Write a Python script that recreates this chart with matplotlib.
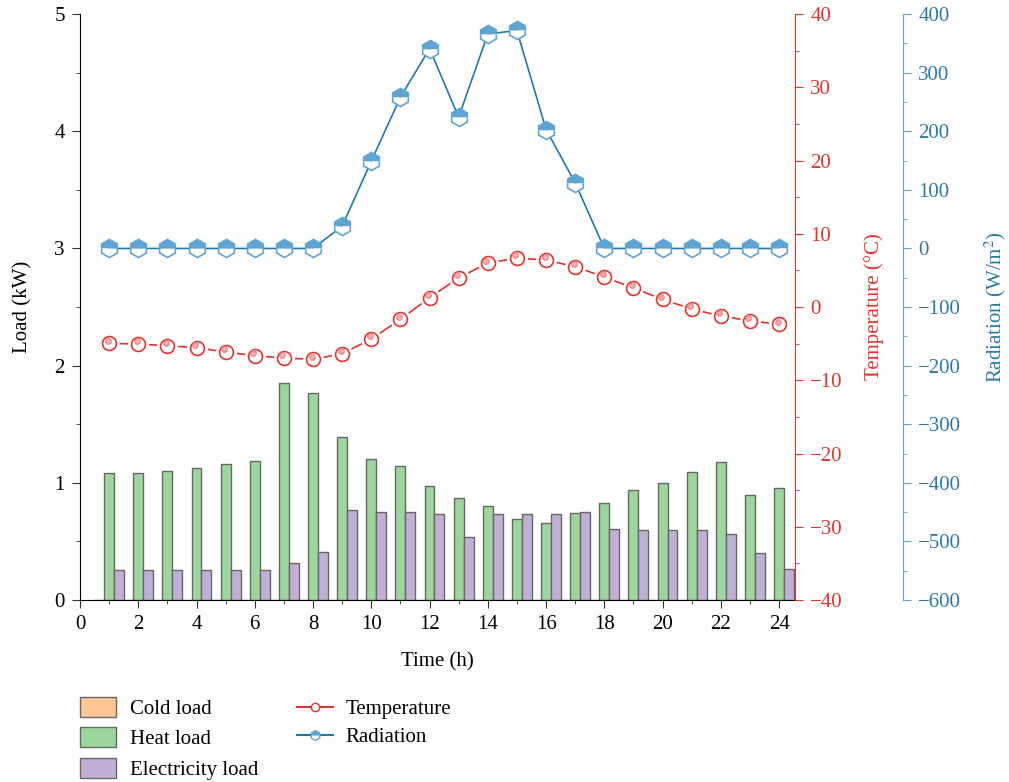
import numpy as np
import matplotlib
matplotlib.use('Agg')
import matplotlib.pyplot as plt
from matplotlib.patches import Patch
from matplotlib.lines import Line2D
from matplotlib.ticker import MultipleLocator

plt.rcParams['font.family'] = ['Liberation Serif', 'DejaVu Serif']
plt.rcParams['mathtext.fontset'] = 'stix'

# Datos
horas = np.arange(1, 25)
cold_load = [0] * 24
heat_load = [1.08, 1.08, 1.10, 1.13, 1.16, 1.19, 1.85, 1.77, 1.39, 1.20, 1.14, 0.97,
             0.87, 0.80, 0.69, 0.66, 0.74, 0.83, 0.94, 1.00, 1.09, 1.18, 0.90, 0.96]
elec_load = [0.26, 0.26, 0.26, 0.26, 0.26, 0.26, 0.32, 0.41, 0.77, 0.75, 0.755, 0.73,
             0.535, 0.73, 0.73, 0.73, 0.75, 0.61, 0.595, 0.595, 0.595, 0.565, 0.40, 0.265]
temperatura = [-4.96, -5.05, -5.28, -5.55, -6.14, -6.64, -6.96, -7.14, -6.37, -4.37, -1.68, 1.27,
               4.0, 6.0, 6.69, 6.42, 5.5, 4.1, 2.6, 1.05, -0.27, -1.23, -1.87, -2.36]
radiacion = [0, 0, 0, 0, 0, 0, 0, 0, 38, 149, 258, 341,
             224, 366, 372, 203, 112, 0, 0, 0, 0, 0, 0, 0]

c_cold = '#fdc795'
c_heat = '#9dd69c'
c_elec = '#c0b0d6'
c_edge = '#666666'
c_temp = '#e3342b'
c_rad_line = '#1f7aab'
c_rad_mk = '#5ea5d3'
c_rad_txt = '#2a7aa5'
fs = 15

fig = plt.figure(figsize=(10.09, 7.82), dpi=100)
ax = fig.add_axes([0.0793, 0.2327, 0.7087, 0.7493])

w = 0.34
ax.bar(horas - w, cold_load, w, color=c_cold, edgecolor=c_edge, linewidth=1)
ax.bar(horas, heat_load, w, color=c_heat, edgecolor=c_edge, linewidth=1)
ax.bar(horas + w, elec_load, w, color=c_elec, edgecolor=c_edge, linewidth=1)

ax.set_xlim(0, 24.55)
ax.set_ylim(0, 5)
ax.xaxis.set_major_locator(MultipleLocator(2))
ax.xaxis.set_minor_locator(MultipleLocator(1))
ax.yaxis.set_major_locator(MultipleLocator(1))
ax.yaxis.set_minor_locator(MultipleLocator(0.5))
ax.tick_params(which='major', direction='out', length=6, labelsize=fs, color='#333333', pad=5)
ax.tick_params(which='minor', direction='out', length=3, color='#333333')
ax.set_xlabel('Time (h)', fontsize=fs, labelpad=13)
ax.set_ylabel('Load (kW)', fontsize=fs, labelpad=16)
ax.spines['top'].set_visible(False)
ax.spines['right'].set_visible(False)

# Eje de temperatura
ax2 = ax.twinx()
ax2.set_ylim(-40, 40)
ax2.yaxis.set_major_locator(MultipleLocator(10))
ax2.yaxis.set_minor_locator(MultipleLocator(5))
for s in ['top', 'left', 'bottom']:
    ax2.spines[s].set_visible(False)
ax2.spines['right'].set_color(c_temp)
ax2.tick_params(axis='y', which='both', colors=c_temp, labelsize=fs)
ax2.tick_params(which='major', length=6, pad=5)
ax2.tick_params(which='minor', length=3)
ax2.set_ylabel('Temperature (°C)', color=c_temp, fontsize=fs, labelpad=15)
ax2.plot(horas, temperatura, color=c_temp, lw=1.2, zorder=2)
ax2.plot(horas, temperatura, ls='none', marker='o', ms=14, mfc='white', mec='white', zorder=3)
ax2.plot(horas, temperatura, ls='none', marker='o', ms=10, mfc='white', mec=c_temp, mew=1.2, zorder=4)
ax2.plot(horas - 0.05, np.array(temperatura) + 0.35, ls='none', marker='o', ms=4,
         mfc='#f7b0b0', mec='#f08080', mew=0.8, zorder=5)

# Eje de radiación
ax3 = ax.twinx()
ax3.spines['right'].set_position(('axes', 1.151))
ax3.set_ylim(-600, 400)
ax3.yaxis.set_major_locator(MultipleLocator(100))
ax3.yaxis.set_minor_locator(MultipleLocator(50))
for s in ['top', 'left', 'bottom']:
    ax3.spines[s].set_visible(False)
ax3.spines['right'].set_color(c_rad_mk)
ax3.tick_params(axis='y', which='both', colors=c_rad_mk, labelcolor=c_rad_txt, labelsize=fs)
ax3.tick_params(which='major', length=6, pad=5)
ax3.tick_params(which='minor', length=3)
ax3.set_ylabel('Radiation (W/m$^2$)', color=c_rad_txt, fontsize=fs, labelpad=15)
ax3.plot(horas, radiacion, color=c_rad_line, lw=1.2, marker='h', ms=13,
         fillstyle='top', mfc=c_rad_mk, mfcalt='white', mec=c_rad_mk, mew=1.2, zorder=3)

# Leyendas
h_bars = [Patch(facecolor=c_cold, edgecolor=c_edge, label='Cold load'),
          Patch(facecolor=c_heat, edgecolor=c_edge, label='Heat load'),
          Patch(facecolor=c_elec, edgecolor=c_edge, label='Electricity load')]
h_lines = [Line2D([], [], color=c_temp, marker='o', ms=6, mfc='white', mec=c_temp, label='Temperature'),
           Line2D([], [], color=c_rad_line, marker='h', ms=7, fillstyle='top', mfc=c_rad_mk,
                  mfcalt='white', mec=c_rad_mk, label='Radiation')]
leg1 = fig.legend(handles=h_bars, loc='upper left', bbox_to_anchor=(0.061, 0.133), frameon=False,
                  fontsize=fs, handlelength=1.7, handleheight=1.1, handletextpad=0.7,
                  labelspacing=0.4)
leg2 = fig.legend(handles=h_lines, loc='upper left', bbox_to_anchor=(0.276, 0.129), frameon=False,
                  fontsize=fs, handlelength=1.7, handletextpad=0.6, labelspacing=0.4)

fig.savefig('out.png', dpi=100)
